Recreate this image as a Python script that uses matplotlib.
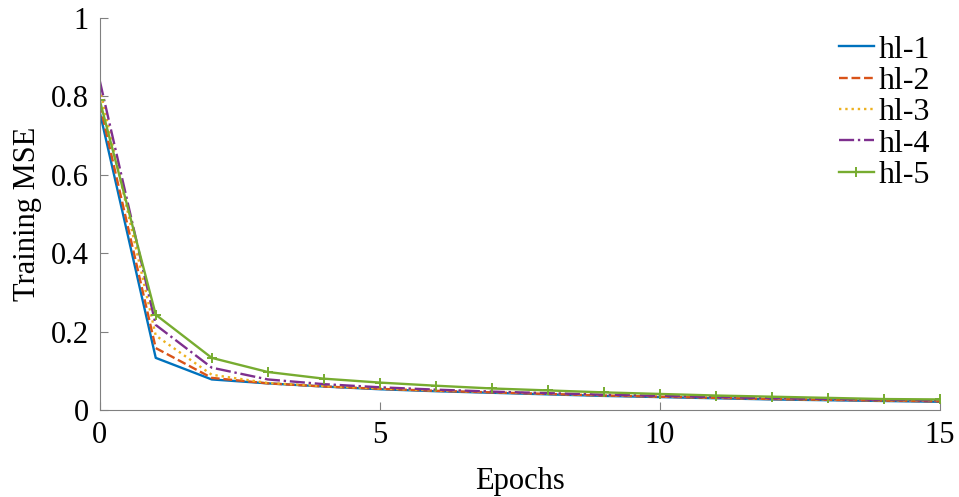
import matplotlib.pyplot as plt

plt.rcParams['font.family'] = ['Liberation Serif', 'DejaVu Serif']

epochs = list(range(16))
hl1 = [0.76, 0.133, 0.078, 0.068, 0.060, 0.053, 0.048, 0.044, 0.040, 0.036, 0.033, 0.030, 0.027, 0.025, 0.023, 0.021]
hl2 = [0.78, 0.158, 0.082, 0.068, 0.060, 0.054, 0.049, 0.045, 0.041, 0.037, 0.034, 0.031, 0.028, 0.026, 0.024, 0.022]
hl3 = [0.82, 0.19, 0.090, 0.069, 0.061, 0.055, 0.050, 0.046, 0.042, 0.038, 0.035, 0.032, 0.029, 0.027, 0.025, 0.023]
hl4 = [0.84, 0.217, 0.108, 0.078, 0.066, 0.058, 0.052, 0.047, 0.043, 0.039, 0.036, 0.033, 0.030, 0.028, 0.026, 0.024]
hl5 = [0.79, 0.243, 0.133, 0.097, 0.080, 0.070, 0.062, 0.055, 0.050, 0.045, 0.041, 0.037, 0.034, 0.031, 0.028, 0.027]

fig = plt.figure(figsize=(9.59, 4.97), dpi=100)
ax = fig.add_axes([0.104, 0.175, 0.876, 0.789])

ax.plot(epochs, hl1, '-', color='#0072BD', lw=1.7, label='hl-1')
ax.plot(epochs, hl2, '--', color='#D95319', lw=1.7, label='hl-2')
ax.plot(epochs, hl3, ':', color='#EDB120', lw=1.7, label='hl-3')
ax.plot(epochs, hl4, '-.', color='#7E2F8E', lw=1.7, label='hl-4')
ax.plot(epochs, hl5, '-', color='#77AC30', lw=1.7, marker='+', ms=7, mew=1.4, label='hl-5')

ax.set_xlim(0, 15)
ax.set_ylim(0, 1)
ax.set_xticks([0, 5, 10, 15])
ax.set_yticks([0, 0.2, 0.4, 0.6, 0.8, 1])
ax.set_yticklabels(['0', '0.2', '0.4', '0.6', '0.8', '1'])
ax.spines['top'].set_visible(False)
ax.spines['right'].set_visible(False)
for s in ['left', 'bottom']:
    ax.spines[s].set_color('#808080')
ax.tick_params(direction='in', length=6, color='#808080', labelsize=22, pad=8)
ax.set_xlabel('Epochs', fontsize=22, labelpad=12)
ax.set_ylabel('Training MSE', fontsize=22, labelpad=6)

ax.legend(loc='upper right', frameon=False, fontsize=23, handlelength=1.1,
          handletextpad=0.15, labelspacing=0.06, borderpad=0.1,
          borderaxespad=0.2, bbox_to_anchor=(1.0, 0.98))

fig.savefig('out.png', dpi=100)
